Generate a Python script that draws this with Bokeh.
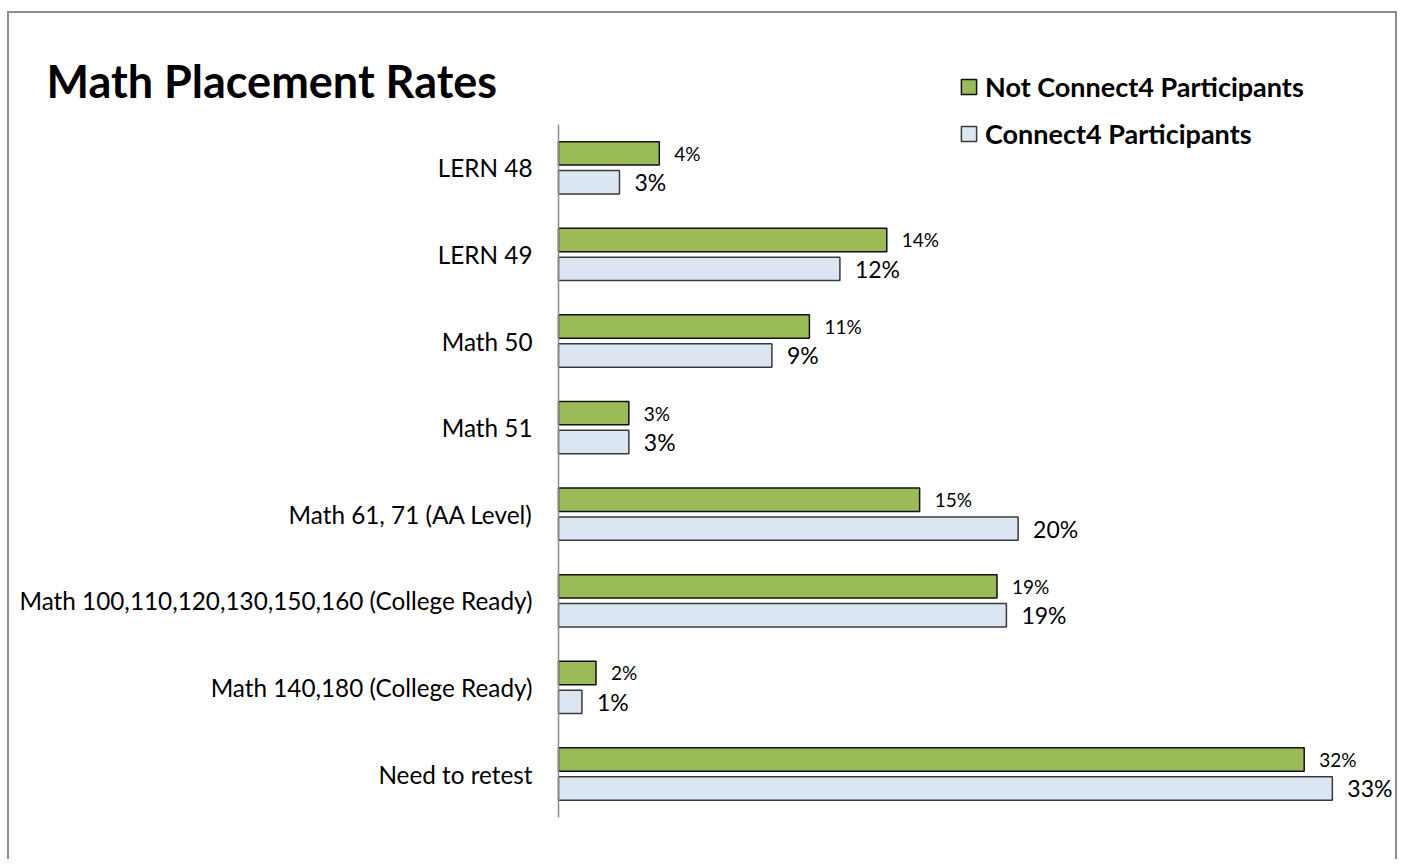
from bokeh.plotting import figure
from bokeh.models import Range1d, Label, Legend, LegendItem, ColumnDataSource, FixedTicker
from bokeh.transform import dodge
from bokeh.core.properties import value
from bokeh.embed import file_html
from bokeh.resources import INLINE

# ---- data ----
categories = [
    "LERN 48",
    "LERN 49",
    "Math 50",
    "Math 51",
    "Math 61, 71 (AA Level)",
    "Math 100,110,120,130,150,160 (College Ready)",
    "Math 140,180 (College Ready)",
    "Need to retest",
]
not_connect4 = [4.3, 14.0, 10.7, 3.0, 15.4, 18.7, 1.6, 31.8]
connect4 = [2.6, 12.0, 9.1, 3.0, 19.6, 19.1, 1.0, 33.0]
not_connect4_labels = ["4%", "14%", "11%", "3%", "15%", "19%", "2%", "32%"]
connect4_labels = ["3%", "12%", "9%", "3%", "20%", "19%", "1%", "33%"]
series_names = ["Not Connect4 Participants", "Connect4 Participants"]
chart_title = "Math Placement Rates"

FONT = "Lato"
GREEN = "#9BBB59"
LIGHT = "#DCE6F2"

idx = list(range(len(categories)))
src = ColumnDataSource(dict(
    idx=idx,
    g=not_connect4,
    b=connect4,
    gl=not_connect4_labels,
    bl=connect4_labels,
))

W, H = 1390, 848
PX_PER_PCT = 23.45
AXIS_PX = 549          # distance of the value axis from the plot's left edge
ROW_PX = 86.6
FIRST_ROW_PX = 154.3   # centre of first category from the plot's top edge

p = figure(
    width=W, height=H,
    x_range=Range1d(-AXIS_PX / PX_PER_PCT, (W - AXIS_PX) / PX_PER_PCT),
    y_range=Range1d((H - FIRST_ROW_PX) / ROW_PX, -FIRST_ROW_PX / ROW_PX),
    output_backend="svg", toolbar_location=None,
    min_border_left=0, min_border_right=0, min_border_top=0, min_border_bottom=0,
)
p.title.visible = False
p.styles = {"margin-left": "7px", "margin-top": "11px",
            "border-top": "2px solid #8c8c8c", "border-left": "2px solid #8c8c8c",
            "border-right": "2px solid #8c8c8c"}

OFF = 0.167
BAR_H = 0.27
rg = p.hbar(y=dodge("idx", -OFF), right="g", left=0, height=BAR_H,
            source=src, fill_color=GREEN, line_color="#111111", line_width=1.5)
rb = p.hbar(y=dodge("idx", OFF), right="b", left=0, height=BAR_H,
            source=src, fill_color=LIGHT, line_color="#3a3a3a", line_width=1.5)

p.text(x="g", y=dodge("idx", -OFF), text="gl", source=src,
       x_offset=15, text_baseline="middle", text_align="left",
       text_font=value(FONT), text_font_size="19px", text_color="#000000")
p.text(x="b", y=dodge("idx", OFF), text="bl", source=src,
       x_offset=15, text_baseline="middle", text_align="left",
       text_font=value(FONT), text_font_size="23px", text_color="#000000")

# axes
p.xaxis.visible = False
p.xgrid.visible = False
p.ygrid.visible = False
p.outline_line_color = None
ya = p.yaxis[0]
ya.fixed_location = 0
ya.bounds = (-0.5, len(categories) - 0.5)
ya.ticker = FixedTicker(ticks=idx)
ya.major_label_overrides = {i: c for i, c in zip(idx, categories)}
ya.axis_line_color = "#8c8c8c"
ya.axis_line_width = 1.5
ya.major_tick_line_color = None
ya.minor_tick_line_color = None
ya.major_label_standoff = 20
ya.major_label_text_font = FONT
ya.major_label_text_font_size = "24.3px"
ya.major_label_text_color = "#000000"

# title
title = Label(x=37, y=781, x_units="screen", y_units="screen",
              text=chart_title, text_font=FONT, text_font_size="45px",
              text_font_style="bold", text_color="#000000", text_baseline="alphabetic")
p.add_layout(title)

legend = Legend(items=[LegendItem(label=series_names[0], renderers=[rg]),
                       LegendItem(label=series_names[1], renderers=[rb])],
                location=(950, 711), orientation="vertical",
                glyph_width=19, glyph_height=19, label_standoff=7, spacing=14,
                padding=0, margin=0, border_line_color=None,
                background_fill_alpha=0,
                label_text_font=FONT, label_text_font_size="27px",
                label_text_font_style="bold", label_text_color="#000000")
p.add_layout(legend, "center")

open("out.html", "w").write(file_html(p, INLINE))
